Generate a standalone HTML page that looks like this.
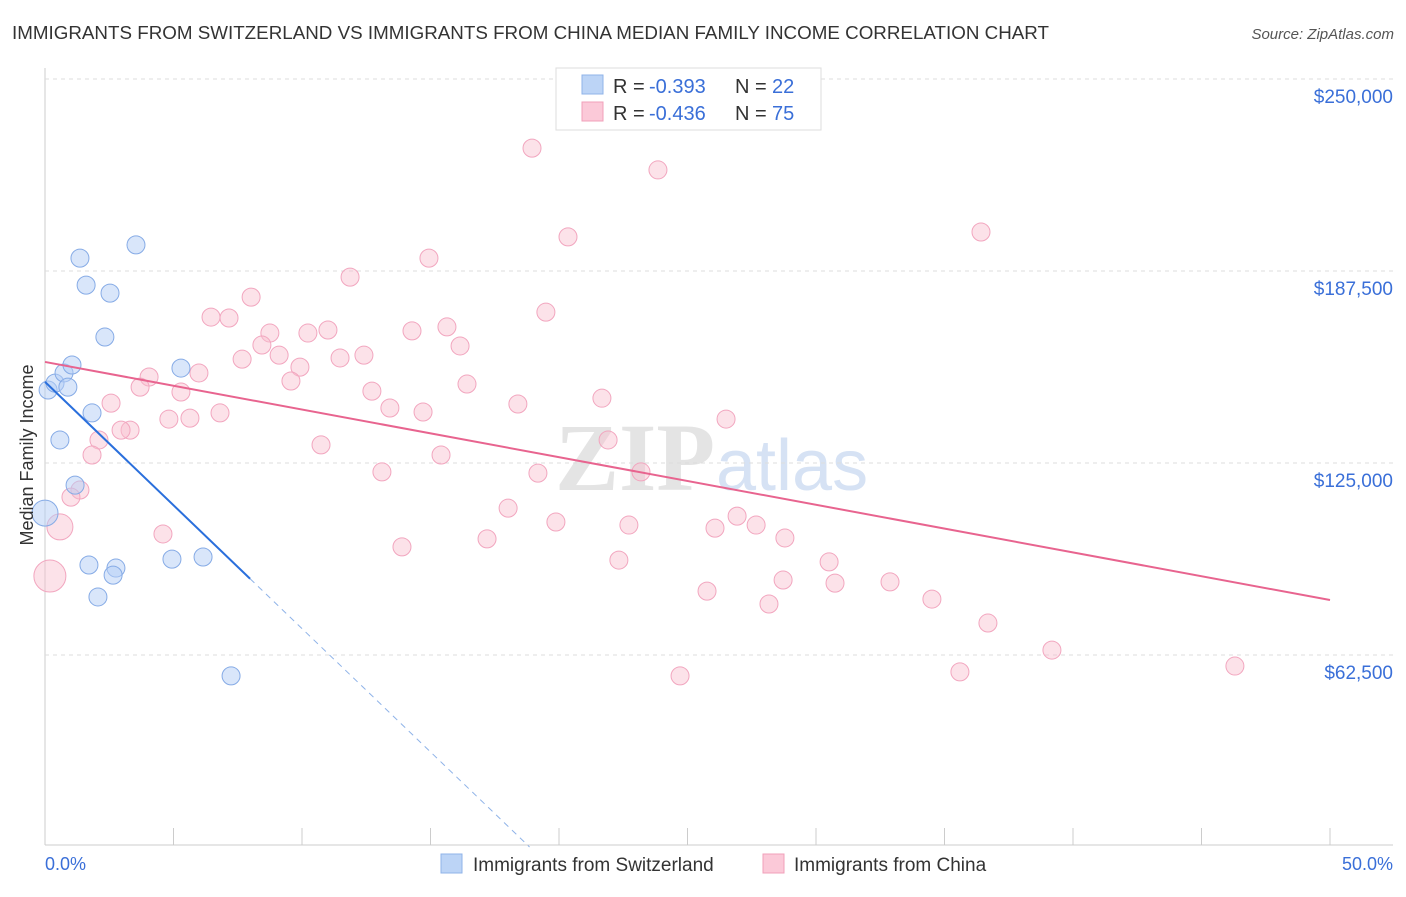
<!DOCTYPE html>
<html><head><meta charset="utf-8"><style>
body{margin:0;background:#fff;font-family:"Liberation Sans",sans-serif;}
</style></head><body>
<svg id="c" width="1406" height="892" xmlns="http://www.w3.org/2000/svg">
<text x="12" y="39" font-size="18" fill="#333" textLength="1037" lengthAdjust="spacingAndGlyphs">IMMIGRANTS FROM SWITZERLAND VS IMMIGRANTS FROM CHINA MEDIAN FAMILY INCOME CORRELATION CHART</text>
<text x="1394" y="39" font-size="15" fill="#555" font-style="italic" text-anchor="end">Source: ZipAtlas.com</text>
<text x="715" y="490" font-size="96" fill="#e4e4e4" text-anchor="end" font-family="Liberation Serif" font-weight="bold">ZIP</text>
<text x="716" y="490" font-size="72" fill="#d6e2f4">atlas</text>
<g id="grid"></g><g id="marks"></g>
<text x="33" y="455" font-size="18" fill="#333" text-anchor="middle" transform="rotate(-90 33 455)">Median Family Income</text>
<g>
<rect x="556" y="68" width="265" height="62" fill="#fff" stroke="#ddd"/>
<rect x="582" y="75" width="21" height="19" fill="#bcd4f6" stroke="#8fb3e8"/>
<rect x="582" y="102" width="21" height="19" fill="#fbc9d8" stroke="#f0a0ba"/>
<text x="613" y="93" font-size="20" fill="#333">R =</text><text x="649" y="93" font-size="20" fill="#3a6fd8">-0.393</text>
<text x="735" y="93" font-size="20" fill="#333">N =</text><text x="772" y="93" font-size="20" fill="#3a6fd8">22</text>
<text x="613" y="120" font-size="20" fill="#333">R =</text><text x="649" y="120" font-size="20" fill="#3a6fd8">-0.436</text>
<text x="735" y="120" font-size="20" fill="#333">N =</text><text x="772" y="120" font-size="20" fill="#3a6fd8">75</text>
</g>
<g>
<rect x="441" y="854" width="21" height="19" fill="#bcd4f6" stroke="#8fb3e8"/>
<text x="473" y="871" font-size="19" fill="#333">Immigrants from Switzerland</text>
<rect x="763" y="854" width="21" height="19" fill="#fbc9d8" stroke="#f0a0ba"/>
<text x="794" y="871" font-size="19" fill="#333">Immigrants from China</text>
</g>
<text x="45" y="870" font-size="18" fill="#3a6fd8">0.0%</text>
<text x="1393" y="870" font-size="18" fill="#3a6fd8" text-anchor="end">50.0%</text>
</svg>
<script>
const yTicks=[62500,125000,187500,250000];
const yTickLabels=["$62,500","$125,000","$187,500","$250,000"];
const blueX=[0.12,0.39,0.74,0.89,1.05,0.58,1.17,1.36,1.60,2.53,3.54,2.33,1.83,5.29,1.71,2.76,2.65,2.06,4.94,6.15,7.24,0];
const blueY=[148750,151000,154300,149700,156900,132500,117800,191700,182900,180300,196000,166000,141300,155900,91800,90800,88500,81400,93700,94400,55700,108700];
const blueR=[9,9,9,9,9,9,9,9,9,9,9,9,9,9,9,9,9,9,9,9,9,13];
const pinkX=[18.95,23.85,20.35,36.42,14.94,11.87,8.02,19.49,6.46,7.16,15.64,14.28,8.75,10.23,11.01,16.15,8.44,7.67,9.11,11.48,12.41,9.92,5.99,4.05,9.57,16.42,3.70,5.29,12.72,2.57,13.42,14.71,18.40,21.67,6.81,4.82,5.64,26.50,3.31,2.96,2.10,10.74,21.91,1.83,15.41,13.11,19.18,23.19,1.36,1.01,18.02,26.93,19.88,22.72,26.07,27.67,4.59,17.20,28.79,13.89,22.33,30.51,28.72,30.74,32.88,25.76,34.51,28.17,36.69,39.18,24.71,35.60,46.30,0.58,0.19];
const pinkY=[227500,220400,198600,200200,191700,185500,179000,174100,172500,172200,169300,168000,167300,167300,168300,163100,163400,158800,160100,159200,160100,156200,154300,153000,151700,150700,149700,148100,148400,144500,142900,141600,144200,146100,141300,139300,139600,139300,135700,135700,132500,130900,132500,127600,127600,122100,121700,122100,116200,113900,110300,107700,105800,104800,103800,104800,101900,100300,100600,97700,93400,92800,86900,85900,86300,83300,80700,79100,72900,64100,55700,57000,58900,104200,88200];
const blueTrend=[151400,-8030]; // intercept, slope per %
const pinkTrend=[157900,-1550];
const NS="http://www.w3.org/2000/svg";
const X=v=>45+v/50*1285, Y=v=>847-v/62500*192;
function mk(t,a,p){const e=document.createElementNS(NS,t);for(const k in a)e.setAttribute(k,a[k]);p.appendChild(e);return e;}
const g=document.getElementById('grid'),m=document.getElementById('marks');
const ax=mk('line',{x1:45,y1:68,x2:45,y2:845,stroke:'#ccc'},g);


const bx=mk('line',{x1:45,y1:845,x2:1393,y2:845,stroke:'#ccc'},g);


for(let i=0;i<=10;i++){const t=mk('line',{x1:X(i*5),y1:828,x2:X(i*5),y2:845,stroke:'#ccc'},g);

}
yTicks.forEach((v,i)=>{const l=mk('line',{x1:45,y1:Y(v),x2:1393,y2:Y(v),stroke:'#ddd','stroke-dasharray':'4,4'},g);


const t=mk('text',{x:1393,y:Y(v)+24,'font-size':19,fill:'#3a6fd8','text-anchor':'end'},g);t.textContent=yTickLabels[i];

});
pinkX.forEach((x,i)=>{const c=mk('circle',{cx:X(x),cy:Y(pinkY[i]),r:i>=73?(i==73?13:16):9,fill:'rgba(249,190,207,0.45)',stroke:'#f2a6bf','stroke-width':1},m);

});
blueX.forEach((x,i)=>{const c=mk('circle',{cx:X(x),cy:Y(blueY[i]),r:blueR[i],fill:'rgba(180,205,245,0.5)',stroke:'#86abe6','stroke-width':1},m);

});
const xe=7.98,x0=-blueTrend[0]/blueTrend[1];
const bl=mk('line',{x1:X(0),y1:Y(blueTrend[0]),x2:X(xe),y2:Y(blueTrend[0]+blueTrend[1]*xe),stroke:'#2a6fdc','stroke-width':2},m);


const bd=mk('line',{x1:X(xe),y1:Y(blueTrend[0]+blueTrend[1]*xe),x2:X(x0),y2:Y(0),stroke:'#8fb3e8','stroke-width':1,'stroke-dasharray':'6,5'},m);


const pl=mk('line',{x1:X(0),y1:Y(pinkTrend[0]),x2:X(50),y2:Y(pinkTrend[0]+pinkTrend[1]*50),stroke:'#e8648f','stroke-width':2},m);


</script>
</body></html>
